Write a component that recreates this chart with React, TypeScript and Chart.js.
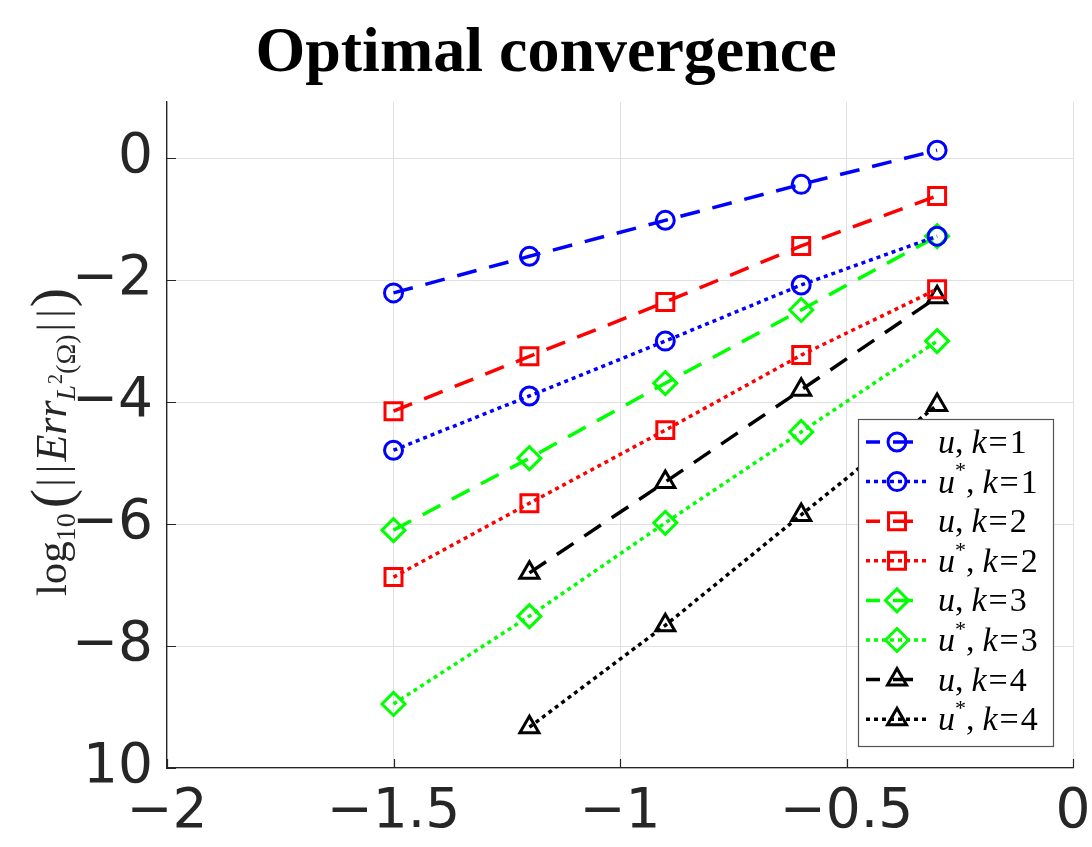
import React, { useEffect, useRef } from 'react';
import { Chart, registerables } from 'chart.js';

Chart.register(...registerables);

// ---------- data ----------
const xValues = [-1.5, -1.2, -0.9, -0.6, -0.3];
const uK1 = [-2.21, -1.61, -1.02, -0.43, 0.13];
const uStarK1 = [-4.79, -3.9, -3.0, -2.08, -1.28];
const uK2 = [-4.15, -3.25, -2.36, -1.44, -0.62];
const uStarK2 = [-6.87, -5.66, -4.46, -3.23, -2.15];
const uK3 = [-6.1, -4.92, -3.69, -2.49, -1.28];
const uStarK3 = [-8.95, -7.51, -5.98, -4.49, -3.0];
const uK4 = [null, -6.8, -5.31, -3.8, -2.28];
const uStarK4 = [null, -9.33, -7.66, -5.85, -4.05];

const seriesLabels = ['u, k=1', 'u*, k=1', 'u, k=2', 'u*, k=2', 'u, k=3', 'u*, k=3', 'u, k=4', 'u*, k=4'];
const seriesValues = [uK1, uStarK1, uK2, uStarK2, uK3, uStarK3, uK4, uStarK4];
const seriesColors = ['#0000ff', '#0000ff', '#ff0000', '#ff0000', '#00ff00', '#00ff00', '#000000', '#000000'];
const seriesMarkers = ['circle', 'circle', 'rect', 'rect', 'rectRot', 'rectRot', 'triangle', 'triangle'];
const seriesDashed = [true, false, true, false, true, false, true, false];

const xTickValues = [-2, -1.5, -1, -0.5, 0];
const xTickLabels = ['\u22122', '\u22121.5', '\u22121', '\u22120.5', '0'];
const yTickValues = [-10, -8, -6, -4, -2, 0];
const yTickLabels = ['10', '\u22128', '\u22126', '\u22124', '\u22122', '0'];

const titleText = 'Optimal convergence';

// ---------- styles ----------
const DASH = [20, 13];
const DOT = [4, 4];
const markerRadius: Record<string, number> = { circle: 9, rect: 12, rectRot: 11.5, triangle: 11 };
const SERIF = '"Liberation Serif", "DejaVu Serif", serif';
const SANS = '"DejaVu Sans", sans-serif';

function drawMarker(ctx: CanvasRenderingContext2D, style: string, x: number, y: number, r: number) {
  ctx.beginPath();
  if (style === 'circle') {
    ctx.arc(x, y, r, 0, Math.PI * 2);
  } else if (style === 'rect') {
    const s = r * Math.SQRT1_2;
    ctx.rect(x - s, y - s, 2 * s, 2 * s);
  } else if (style === 'rectRot') {
    ctx.moveTo(x - r, y);
    ctx.lineTo(x, y - r);
    ctx.lineTo(x + r, y);
    ctx.lineTo(x, y + r);
    ctx.closePath();
  } else if (style === 'triangle') {
    const h = (r * 3) / Math.sqrt(3);
    ctx.moveTo(x - h / 2, y + r / 2);
    ctx.lineTo(x + h / 2, y + r / 2);
    ctx.lineTo(x, y - r);
    ctx.closePath();
  }
  ctx.stroke();
}

type Part = { t: string; italic?: boolean; size: number; dy?: number; gapAfter?: number };

function parseLegendLabel(label: string): Part[] {
  const star = label.includes('*');
  const k = label.split('=')[1];
  const parts: Part[] = [{ t: 'u', italic: true, size: 34 }];
  if (star) parts.push({ t: '*', size: 22, dy: -12 });
  parts.push({ t: ',', size: 34, gapAfter: 8 });
  parts.push({ t: 'k', italic: true, size: 34, gapAfter: 2 });
  parts.push({ t: '=', size: 34, gapAfter: 2 });
  parts.push({ t: k, size: 34 });
  return parts;
}

function drawParts(ctx: CanvasRenderingContext2D, parts: Part[], x: number, y: number) {
  let cx = x;
  for (const p of parts) {
    ctx.font = `${p.italic ? 'italic ' : ''}${p.size}px ${SERIF}`;
    ctx.fillText(p.t, cx, y + (p.dy || 0));
    cx += ctx.measureText(p.t).width + (p.gapAfter || 0);
  }
  return cx - x;
}

function measureParts(ctx: CanvasRenderingContext2D, parts: Part[]) {
  let w = 0;
  for (const p of parts) {
    ctx.font = `${p.italic ? 'italic ' : ''}${p.size}px ${SERIF}`;
    w += ctx.measureText(p.t).width + (p.gapAfter || 0);
  }
  return w;
}

const axisDecorPlugin = {
  id: 'axisDecor',
  afterDraw(chart: any) {
    const { ctx, chartArea } = chart;
    const xs = chart.scales.x;
    const ys = chart.scales.y;
    ctx.save();
    // inward tick marks
    ctx.strokeStyle = '#262626';
    ctx.lineWidth = 1.2;
    ctx.beginPath();
    for (const v of xTickValues) {
      const px = Math.round(xs.getPixelForValue(v)) + 0.5;
      ctx.moveTo(px, chartArea.bottom);
      ctx.lineTo(px, chartArea.bottom - 9);
    }
    for (const v of yTickValues) {
      const py = Math.round(ys.getPixelForValue(v)) + 0.5;
      ctx.moveTo(chartArea.left, py);
      ctx.lineTo(chartArea.left + 9, py);
    }
    ctx.stroke();

    // legend
    const boxW = 195;
    const boxH = 327;
    const bx = chartArea.right - 20 - boxW;
    const by = chartArea.bottom - 22 - boxH;
    ctx.fillStyle = '#ffffff';
    ctx.fillRect(bx, by, boxW, boxH);
    ctx.strokeStyle = '#555555';
    ctx.lineWidth = 1.2;
    ctx.strokeRect(bx + 0.5, by + 0.5, boxW, boxH);
    const datasets = chart.data.datasets;
    datasets.forEach((ds: any, i: number) => {
      const cy = by + 23 + i * 39.6;
      const dashed = ds.borderDash && ds.borderDash[0] > 10;
      ctx.strokeStyle = ds.borderColor;
      ctx.lineWidth = 3.5;
      ctx.setLineDash(ds.borderDash || []);
      ctx.lineDashOffset = dashed ? 6 : 0;
      ctx.beginPath();
      const x0 = bx + 8;
      const x1 = dashed ? bx + 58 : bx + 70;
      ctx.moveTo(x0, cy);
      ctx.lineTo(x1, cy);
      ctx.stroke();
      ctx.setLineDash([]);
      ctx.lineWidth = 3;
      drawMarker(ctx, ds.pointStyle, bx + 39, cy, ds.pointRadius);
      ctx.fillStyle = '#000';
      ctx.textBaseline = 'middle';
      ctx.textAlign = 'left';
      drawParts(ctx, parseLegendLabel(ds.label), bx + 80, cy + 2);
    });

    // y axis title
    const titleParts: Part[] = [
      { t: 'log', size: 43 },
      { t: '10', size: 28, dy: 9, gapAfter: 5 },
      { t: '(', size: 58, dy: 4, gapAfter: 2 },
      { t: '|', size: 43, gapAfter: 5 },
      { t: '|', size: 43, gapAfter: 3 },
      { t: 'Err', italic: true, size: 44 },
      { t: 'L', italic: true, size: 28, dy: 9, gapAfter: 1 },
      { t: '2', size: 20, dy: -4 },
      { t: '(\u03A9)', size: 28, dy: 9, gapAfter: 3 },
      { t: '|', size: 43, gapAfter: 5 },
      { t: '|', size: 43, gapAfter: 2 },
      { t: ')', size: 58, dy: 4 },
    ];
    const total = measureParts(ctx, titleParts);
    const cyMid = (chartArea.top + chartArea.bottom) / 2 + 7;
    ctx.translate(66, cyMid);
    ctx.rotate(-Math.PI / 2);
    ctx.fillStyle = '#262626';
    ctx.textBaseline = 'alphabetic';
    drawParts(ctx, titleParts, -total / 2, 0);
    ctx.restore();
  },
};

export default function App() {
  const ref = useRef<HTMLCanvasElement | null>(null);
  useEffect(() => {
    document.body.style.margin = '0';
    const canvas = ref.current;
    if (!canvas) return;
    const datasets = seriesValues.map((vals, i) => ({
      label: seriesLabels[i],
      data: xValues
        .map((x, j) => ({ x, y: vals[j] }))
        .filter((p) => p.y !== null),
      borderColor: seriesColors[i],
      backgroundColor: 'rgba(0,0,0,0)',
      borderWidth: 3.5,
      borderDash: seriesDashed[i] ? DASH : DOT,
      pointStyle: seriesMarkers[i],
      pointRadius: markerRadius[seriesMarkers[i]],
      pointBorderWidth: 3,
      pointBorderColor: seriesColors[i],
      pointBackgroundColor: 'rgba(0,0,0,0)',
      tension: 0,
      fill: false,
    }));
    const chart = new Chart(canvas, {
      type: 'line',
      data: { datasets },
      options: {
        responsive: false,
        animation: false,
        layout: { padding: { left: 0, right: 0, top: 0, bottom: 0 } },
        plugins: {
          legend: { display: false },
          tooltip: { enabled: false },
          title: {
            display: true,
            text: titleText,
            color: '#000',
            font: { family: SERIF, size: 64, weight: 'bold', lineHeight: 1.2 },
            padding: { top: 16, bottom: 9.2 },
          },
        },
        scales: {
          x: {
            type: 'linear',
            min: -2,
            max: 0,
            afterBuildTicks: (s: any) => {
              s.ticks = xTickValues.map((v) => ({ value: v }));
            },
            afterFit: (s: any) => {
              s.height = 79;
              s.paddingLeft = 0;
              s.paddingRight = 19;
            },
            ticks: {
              callback: (_v: any, i: number) => xTickLabels[i],
              font: { family: SANS, size: 55 },
              color: '#262626',
              padding: 12,
              maxRotation: 0,
              autoSkip: false,
            },
            grid: { color: '#e0e0e0', lineWidth: 1, drawTicks: false },
            border: { display: true, color: '#262626', width: 1.3 },
          },
          y: {
            type: 'linear',
            min: -10,
            max: 0.92,
            afterBuildTicks: (s: any) => {
              s.ticks = yTickValues.map((v) => ({ value: v }));
            },
            afterFit: (s: any) => {
              s.width = 167;
              s.paddingTop = 0;
              s.paddingBottom = 0;
            },
            ticks: {
              callback: (_v: any, i: number) => yTickLabels[i],
              font: { family: SANS, size: 55 },
              color: '#262626',
              padding: 14,
              autoSkip: false,
            },
            grid: { color: '#e0e0e0', lineWidth: 1, drawTicks: false },
            border: { display: true, color: '#262626', width: 1.3 },
          },
        },
      },
      plugins: [axisDecorPlugin],
    } as any);
    return () => chart.destroy();
  }, []);
  return (
    <div style={{ width: 1092, height: 847 }}>
      <canvas ref={ref} width={1092} height={847} style={{ display: 'block' }} />
    </div>
  );
}
